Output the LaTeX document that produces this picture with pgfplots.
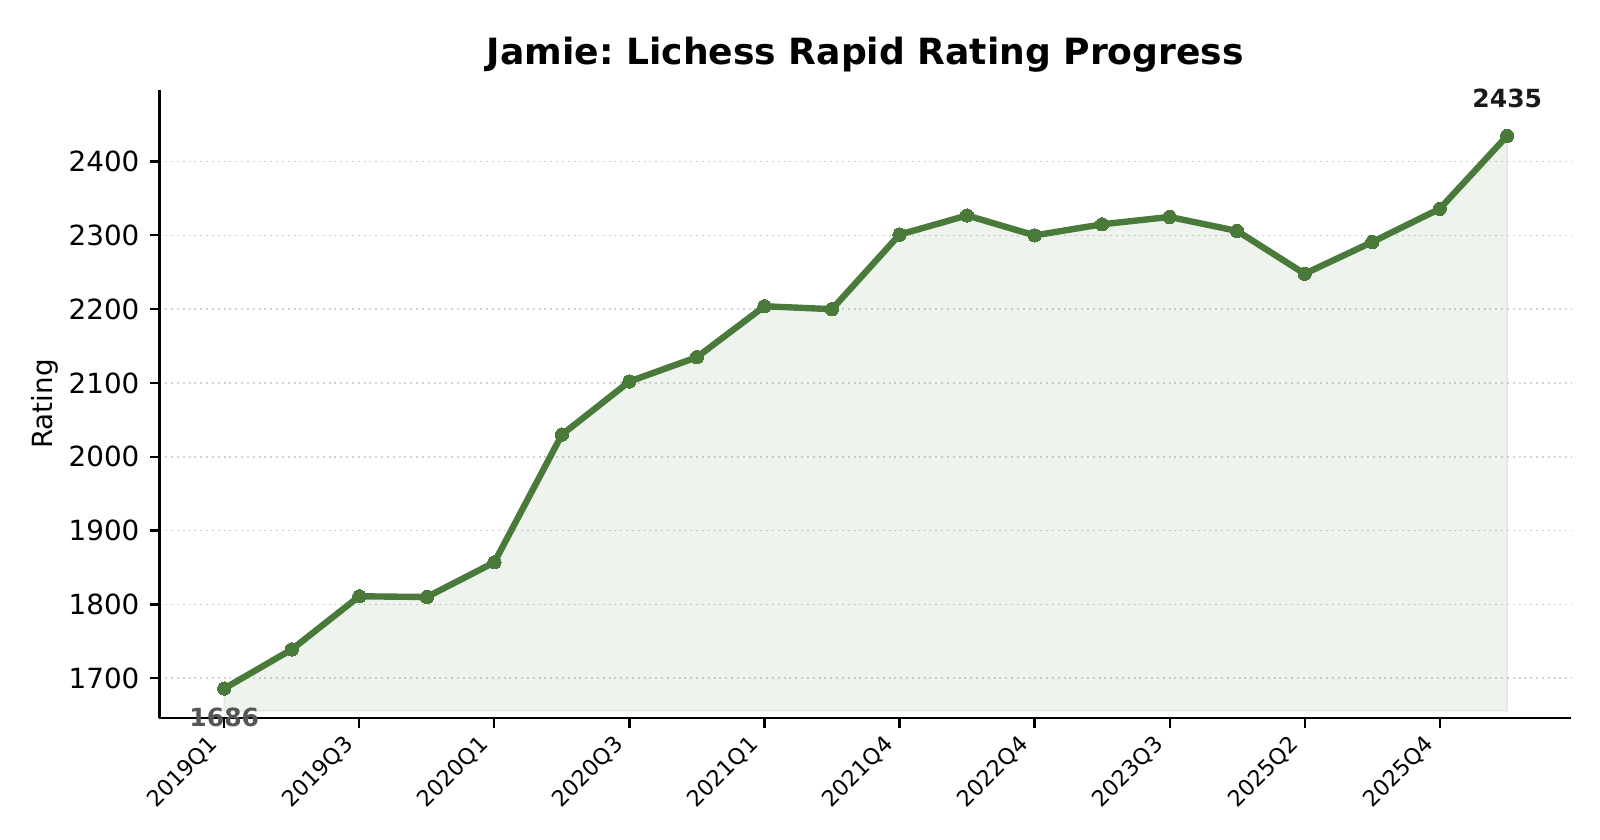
\documentclass[border=0pt]{standalone}
\usepackage{pgfplots}
\pgfplotsset{compat=1.18}
\usepackage{fontspec}
\setmainfont{DejaVu Sans}
\frenchspacing
\definecolor{linegreen}{HTML}{4A7A3A}
\definecolor{annogray}{HTML}{555555}

\begin{document}
\begin{tikzpicture}
\path[use as bounding box] (-57.4pt,-43.9pt) rectangle (518.6pt,258.5pt);
\begin{axis}[
  at={(0,0)}, anchor=south west,
  width=508.3pt, height=226.1pt, scale only axis,
  xmin=-0.96, xmax=19.95, ymin=1646, ymax=2497,
  axis lines*=left,
  axis line style={line width=0.8pt},
  clip=false,
  xtick={0,2,...,18},
  xticklabels={2019Q1,2019Q3,2020Q1,2020Q3,2021Q1,2021Q4,2022Q4,2023Q3,2025Q2,2025Q4},
  ytick={1700,1800,...,2400},
  tick align=outside,
  major tick length=3.5pt,
  tick style={black, line width=0.8pt},
  % shifts first, so they act in page directions, then rotate
  x tick label style={xshift=-6.1pt, yshift=-2pt, rotate=45, anchor=north east,
    font=\fontsize{8}{9}\selectfont, inner sep=0pt},
  y tick label style={font=\fontsize{10}{12}\selectfont, inner sep=3.5pt},
  /pgf/number format/assume math mode=true,
  /pgf/number format/1000 sep={},
  ymajorgrids,
  grid style={dash pattern=on 0.7pt off 1.4pt, black!18, line width=0.6pt},
  ylabel={Rating},
  ylabel style={at={(axis description cs:-0.0813,0.5)}, anchor=center, font=\fontsize{10}{12}\selectfont},
  title={Jamie: Lichess Rapid Rating Progress},
  title style={at={(axis description cs:0.5,1)}, anchor=base, yshift=3.1pt, font=\fontsize{13}{16}\selectfont\bfseries},
]
% shaded area under the curve
\addplot[draw=linegreen, draw opacity=0.12, line width=0.6pt, fill=linegreen, fill opacity=0.09] coordinates {
  (0,1656) (0,1686) (1,1739) (2,1811) (3,1810) (4,1857) (5,2030) (6,2102)
  (7,2135) (8,2204) (9,2200) (10,2301) (11,2327) (12,2300) (13,2315)
  (14,2325) (15,2306) (16,2248) (17,2291) (18,2336) (19,2435) (19,1656)
} --cycle;
\addplot[linegreen, line width=2.3pt, line join=round, mark=*, mark size=2.4pt,
  mark options={fill=linegreen, draw=linegreen, line width=0pt}] coordinates {
  (0,1686) (1,1739) (2,1811) (3,1810) (4,1857) (5,2030) (6,2102)
  (7,2135) (8,2204) (9,2200) (10,2301) (11,2327) (12,2300) (13,2315)
  (14,2325) (15,2306) (16,2248) (17,2291) (18,2336) (19,2435)
};
\node[text=annogray, font=\fontsize{9}{11}\selectfont\bfseries, anchor=base, inner sep=0pt, yshift=-13.7pt] at (axis cs:0,1686) {1686};
\node[text=black!90, font=\fontsize{9}{11}\selectfont\bfseries, anchor=base, inner sep=0pt, yshift=10pt] at (axis cs:19,2435) {2435};
\end{axis}
\end{tikzpicture}
\end{document}
